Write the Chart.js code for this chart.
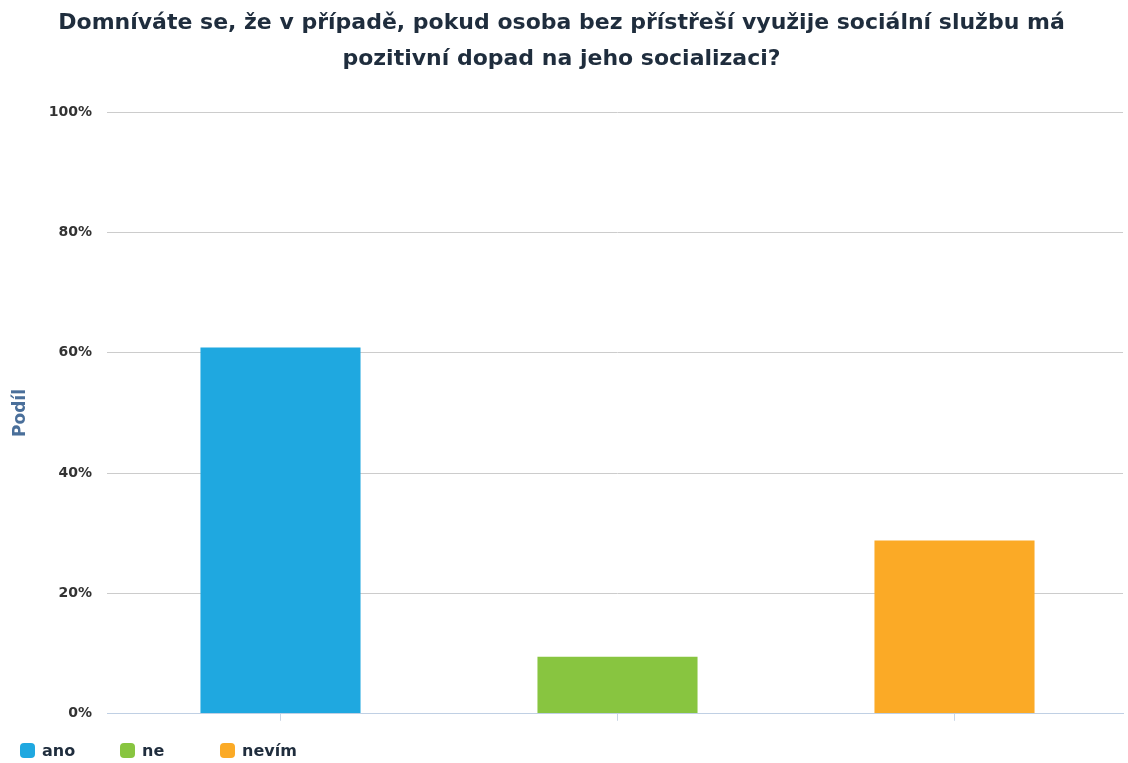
<!DOCTYPE html>
<html>
<head>
<meta charset="utf-8">
<script src="https://cdn.jsdelivr.net/npm/chart.js@4.4.0/dist/chart.umd.min.js"></script>
<style>
  html, body { margin: 0; padding: 0; background: #ffffff; }
  #wrap { position: relative; width: 1128px; height: 763px; }
  #legend { position: absolute; left: 20px; top: 742px; display: flex; font-family: "DejaVu Sans", sans-serif; font-weight: bold; font-size: 16px; color: #1f2d3d; }
  .item { width: 100px; display: flex; align-items: center; height: 16px; }
  .box { width: 15px; height: 15px; border-radius: 4px; margin-right: 7px; flex: none; }
</style>
</head>
<body>
<div id="wrap">
<canvas id="c" width="1128" height="763"></canvas>
<div id="legend"></div>
</div>
<script>
const categories = ["ano", "ne", "nevím"];
const values = [60.9, 9.5, 28.8];
const colors = ["#1fa8e0", "#88c540", "#fbaa26"];
const yTicks = [0, 20, 40, 60, 80, 100];
const titleLines = ["Domníváte se, že v případě, pokud osoba bez přístřeší využije sociální službu má", "pozitivní dopad na jeho socializaci?"];
const yTitle = "Podíl";

const legend = document.getElementById('legend');
categories.forEach((c, i) => {
  const it = document.createElement('div'); it.className = 'item';
  const b = document.createElement('div'); b.className = 'box'; b.style.background = colors[i];
  const t = document.createElement('span'); t.textContent = c;
  it.appendChild(b); it.appendChild(t); legend.appendChild(it);
});

new Chart(document.getElementById('c'), {
  type: 'bar',
  data: {
    labels: categories,
    datasets: [{ data: values, backgroundColor: colors, categoryPercentage: 1, barPercentage: 0.475 }]
  },
  options: {
    responsive: false,
    animation: false,
    layout: { padding: { top: 5, right: 5, bottom: 41, left: 0 } },
    plugins: {
      legend: { display: false },
      tooltip: { enabled: false },
      title: {
        display: true, text: titleLines, color: '#1f2d3d',
        font: { family: 'DejaVu Sans', size: 22, weight: 'bold', lineHeight: 1.64 },
        padding: { top: 0, bottom: 35 }
      }
    },
    scales: {
      x: {
        grid: { display: true, offset: false, drawOnChartArea: false, drawTicks: true, tickLength: 7, color: '#c9d6e6' },
        border: { display: true, color: '#c0d0e4', width: 1, z: 1 },
        ticks: { callback: () => '', padding: 0, font: { size: 1 } }
      },
      y: {
        min: 0, max: 100,
        afterBuildTicks: (s) => { s.ticks = yTicks.map(v => ({ value: v })); },
        afterFit: (s) => { s.width = 112; },
        grid: {
          color: (ctx) => (ctx.tick && ctx.tick.value === 0) ? '#c0d0e4' : '#cccccc',
          tickLength: 5, drawTicks: true
        },
        border: { display: false },
        ticks: {
          callback: (v) => v + '%', padding: 15, color: '#333333',
          font: { family: 'DejaVu Sans', size: 14, weight: 'bold' }
        },
        title: {
          display: true, text: yTitle, color: '#4a6f9a', padding: { top: 10, bottom: 0 },
          font: { family: 'DejaVu Sans', size: 17, weight: 'bold' }
        }
      }
    }
  }
});
</script>
</body>
</html>
